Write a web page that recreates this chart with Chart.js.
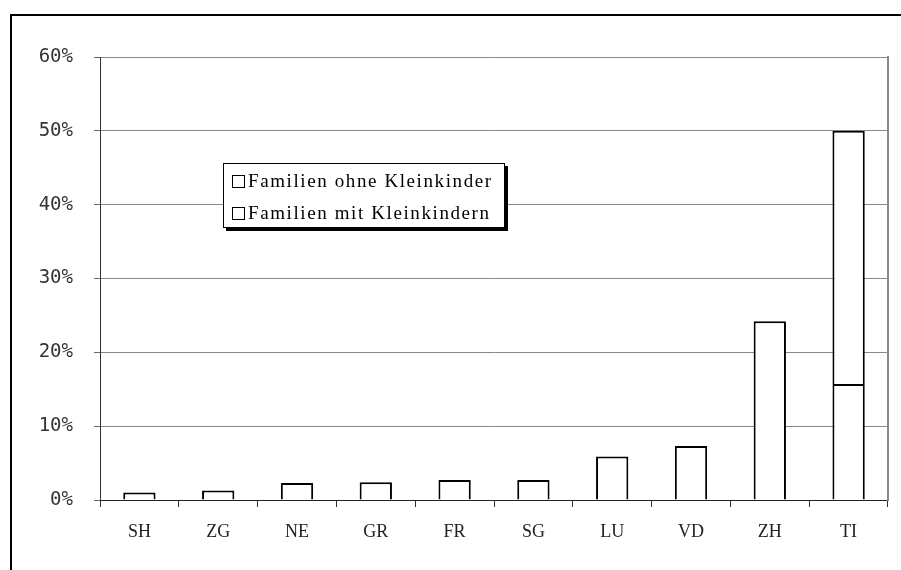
<!DOCTYPE html>
<html lang="de">
<head>
    <meta charset="UTF-8">
    <title>Familien mit / ohne Kleinkinder</title>
    <script src="https://cdn.jsdelivr.net/npm/chart.js"></script>
    <style>
        html, body { margin: 0; padding: 0; background: #fff; overflow: hidden; }
        #wrap { position: relative; width: 901px; height: 570px; }
        #frame {
            position: absolute; left: 10px; top: 14px; width: 1000px; height: 700px;
            border-left: 2px solid #000; border-top: 2px solid #000;
        }
        #chart { position: absolute; left: 0; top: 0; }
        #legend {
            position: absolute; left: 223px; top: 163px; width: 280px; height: 63px;
            border: 1px solid #000; background: #fff; box-shadow: 3px 3px 0 #000;
            font-family: "Liberation Serif", serif; font-size: 19px; color: #000;
        }
        .item { position: absolute; left: 8px; height: 20px; line-height: 20px; white-space: nowrap; letter-spacing: 1.6px; }
        .box { display: inline-block; width: 11px; height: 11px; border: 1px solid #000; margin-right: 3px; vertical-align: -1px; }
    </style>
</head>
<body>
<div id="wrap">
    <div id="frame"></div>
    <canvas id="chart" width="901" height="570"></canvas>
    <div id="legend"></div>
</div>
<script>
    // Kantone
    const cantons = ['SH', 'ZG', 'NE', 'GR', 'FR', 'SG', 'LU', 'VD', 'ZH', 'TI'];
    // Anteile in Prozent
    const withSmallChildren = [null, null, null, null, null, null, null, null, null, 15.7];
    const withoutSmallChildren = [1.0, 1.3, 2.3, 2.4, 2.7, 2.7, 5.9, 7.3, 24.2, 34.3];
    const seriesNames = ['Familien ohne Kleinkinder', 'Familien mit Kleinkindern'];
    const yTicks = [0, 10, 20, 30, 40, 50, 60];

    const ctx = document.getElementById('chart').getContext('2d');
    new Chart(ctx, {
        type: 'bar',
        data: {
            labels: cantons,
            datasets: [{
                label: seriesNames[1],
                data: withSmallChildren,
                backgroundColor: '#fff',
                borderColor: '#000',
                borderWidth: 2,
                categoryPercentage: 1,
                barPercentage: 0.41
            }, {
                label: seriesNames[0],
                data: withoutSmallChildren,
                backgroundColor: '#fff',
                borderColor: '#000',
                borderWidth: 2,
                categoryPercentage: 1,
                barPercentage: 0.41
            }]
        },
        options: {
            responsive: false,
            animation: false,
            layout: { padding: { top: 57, right: 13, left: 0, bottom: 0 } },
            plugins: { legend: { display: false }, tooltip: { enabled: false } },
            scales: {
                x: {
                    stacked: true,
                    afterFit: s => { s.height = 70; },
                    grid: { drawOnChartArea: false, offset: true, tickLength: 7, tickColor: '#333' },
                    border: { color: '#222', width: 1 },
                    ticks: { color: '#222', padding: 14, font: { family: 'Liberation Serif', size: 18 } }
                },
                y: {
                    stacked: true,
                    min: 0, max: 60,
                    afterFit: s => { s.width = 100; },
                    afterBuildTicks: s => { s.ticks = yTicks.map(v => ({ value: v })); },
                    grid: { color: '#888', tickLength: 6, tickColor: '#666' },
                    border: { color: '#333', width: 1 },
                    ticks: {
                        color: '#333', padding: 21,
                        font: { family: 'DejaVu Sans Mono', size: 19 },
                        callback: v => v + '%'
                    }
                },
                y2: {
                    position: 'right',
                    min: 0, max: 60,
                    afterFit: s => { s.width = 0; },
                    grid: { drawOnChartArea: false, drawTicks: false },
                    border: { color: '#888', width: 2 },
                    ticks: { display: false }
                }
            }
        }
    });

    // Legende als Text im Diagramm
    const legend = document.getElementById('legend');
    seriesNames.forEach((name, i) => {
        const div = document.createElement('div');
        div.className = 'item';
        div.style.top = (7 + i * 32) + 'px';
        div.innerHTML = '<span class="box"></span>' + name;
        legend.appendChild(div);
    });
</script>
</body>
</html>
